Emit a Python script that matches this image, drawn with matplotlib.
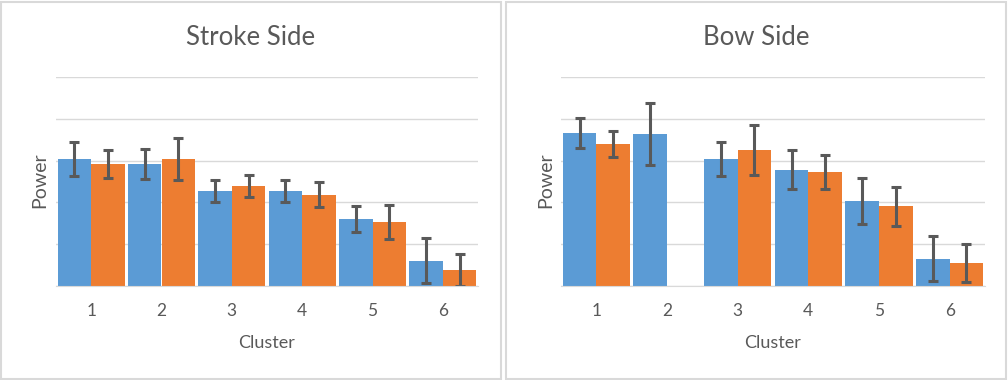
import numpy as np
import matplotlib.pyplot as plt
from matplotlib.patches import Rectangle

plt.rcParams['font.family'] = ['Lato', 'DejaVu Sans']

clusters = ['1', '2', '3', '4', '5', '6']

stroke_blue = [3.04, 2.92, 2.27, 2.27, 1.60, 0.60]
stroke_blue_err = [0.40, 0.35, 0.26, 0.27, 0.31, 0.54]
stroke_orange = [2.92, 3.04, 2.39, 2.18, 1.53, 0.38]
stroke_orange_err = [0.33, 0.50, 0.26, 0.30, 0.40, 0.39]

bow_blue = [3.66, 3.64, 3.04, 2.78, 2.03, 0.65]
bow_blue_err = [0.36, 0.74, 0.41, 0.47, 0.55, 0.54]
bow_orange = [3.40, np.nan, 3.25, 2.73, 1.91, 0.55]
bow_orange_err = [0.31, np.nan, 0.59, 0.40, 0.47, 0.45]

BLUE = '#5B9BD5'
ORANGE = '#ED7D31'
GREY = '#595959'
LINE = '#D9D9D9'

fig = plt.figure(figsize=(10.08, 3.8), dpi=100)
W, H = 1008, 380

# panel borders
for x0, x1 in [(1, 501), (506, 1006)]:
    fig.patches.append(Rectangle((x0 / W, 1 / H), (x1 - x0) / W, (378 - 1) / H,
                                 transform=fig.transFigure, fill=False,
                                 edgecolor=LINE, linewidth=1.5))


def draw(ax, title, title_x, ylab_x, blue, blue_err, orange, orange_err):
    x = np.arange(len(clusters))
    w = 0.475
    ekw = dict(ecolor=GREY, elinewidth=2.2, capsize=3.8, capthick=2.2)
    ax.bar(x - w / 2, blue, w, color=BLUE, yerr=blue_err, error_kw=ekw, zorder=2)
    ax.bar(x + w / 2, orange, w, color=ORANGE, yerr=orange_err, error_kw=ekw, zorder=2)
    ax.set_xlim(-0.5, len(clusters) - 0.5)
    ax.set_ylim(0, 5)
    ax.set_yticks(range(6))
    ax.set_yticklabels([])
    ax.set_xticks(x)
    ax.set_xticklabels(clusters, fontsize=12.5, color=GREY)
    ax.tick_params(length=0, pad=12)
    ax.grid(axis='y', color=LINE, linewidth=1, zorder=0)
    for s in ['top', 'right', 'left']:
        ax.spines[s].set_visible(False)
    ax.spines['bottom'].set_color(LINE)
    ax.set_xlabel('Cluster', fontsize=13, color=GREY, labelpad=12)
    fig.text(ylab_x / W, 1 - 180 / H, 'Power', rotation=90, fontsize=14,
             color=GREY, ha='center', va='center')
    fig.text(title_x / W, 1 - 45 / H, title, fontsize=18.5, color=GREY,
             ha='center', va='baseline')


ax1 = fig.add_axes([56 / W, 1 - 286 / H, 422 / W, 209 / H])
ax2 = fig.add_axes([561 / W, 1 - 286 / H, 424 / W, 209 / H])

draw(ax1, 'Stroke Side', 250.5, 40, stroke_blue, stroke_blue_err,
     stroke_orange, stroke_orange_err)
draw(ax2, 'Bow Side', 756.5, 546, bow_blue, bow_blue_err,
     bow_orange, bow_orange_err)

fig.savefig('out.png', dpi=100)
